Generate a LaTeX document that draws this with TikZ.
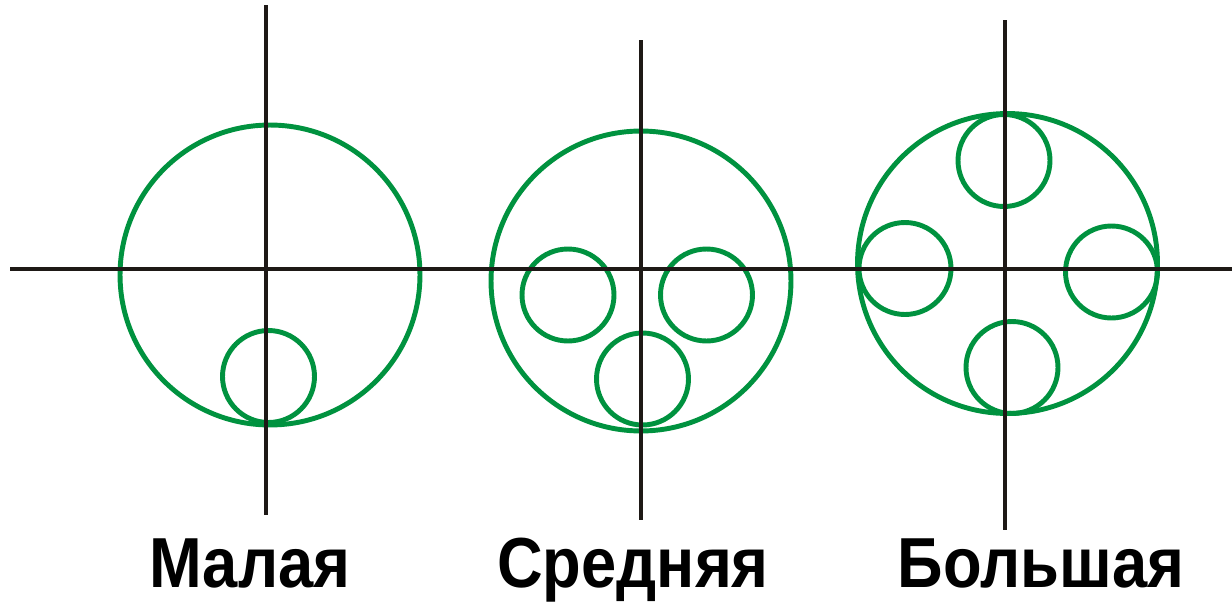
\documentclass[tikz,border=0pt]{standalone}
\usepackage{fontspec}
\setmainfont{Liberation Sans}
\definecolor{ringgreen}{RGB}{0,146,63}
\definecolor{axisblack}{RGB}{30,25,22}
\usepackage{tikz}
\usetikzlibrary{positioning}

\begin{document}
\begin{tikzpicture}[
  x=0.02cm, y=-0.02cm,
  ring/.style={draw=ringgreen, line width=2.8pt},
  axis/.style={draw=axisblack, line width=2.2pt},
  caption/.style={font=\fontsize{36}{40}\selectfont\bfseries, text=black,
                  anchor=base, inner sep=0pt}
]
\useasboundingbox (0,0) rectangle (1232,602);

% axes
\coordinate (hl) at (10,269);
\coordinate (hr) at (1232,269);
\coordinate (v1t) at (266,5);
\coordinate (v1b) at (266,515);
\coordinate (v2t) at (641,40);
\coordinate (v2b) at (641,520);
\coordinate (v3t) at (1005,20);
\coordinate (v3b) at (1005,530);

% small gap
\draw[ring] (270,275) circle[radius=3cm];
\draw[ring] (268.5,376.5) circle[radius=0.92cm];

% medium gap
\draw[ring] (641,281) circle[radius=3cm];
\draw[ring] (568,295) circle[radius=0.92cm];
\draw[ring] (706.5,295) circle[radius=0.92cm];
\draw[ring] (642.5,379) circle[radius=0.92cm];

% large gap
\draw[ring] (1007.5,263.5) circle[radius=3cm];
\draw[ring] (1004,160.5) circle[radius=0.92cm];
\draw[ring] (905,268.5) circle[radius=0.92cm];
\draw[ring] (1111.5,272) circle[radius=0.92cm];
\draw[ring] (1012,367.5) circle[radius=0.92cm];

\draw[axis] (hl) -- (hr);
\draw[axis] (v1t) -- (v1b);
\draw[axis] (v2t) -- (v2b);
\draw[axis] (v3t) -- (v3b);

% captions
\node[caption] (small) at (250,587) {\scalebox{1}[1.12]{Малая}};
\node[caption] (medium) at (633,587) {\scalebox{1}[1.12]{Средняя}};
\node[caption] (large) at (1041,587) {\scalebox{1}[1.12]{Большая}};
\end{tikzpicture}
\end{document}
